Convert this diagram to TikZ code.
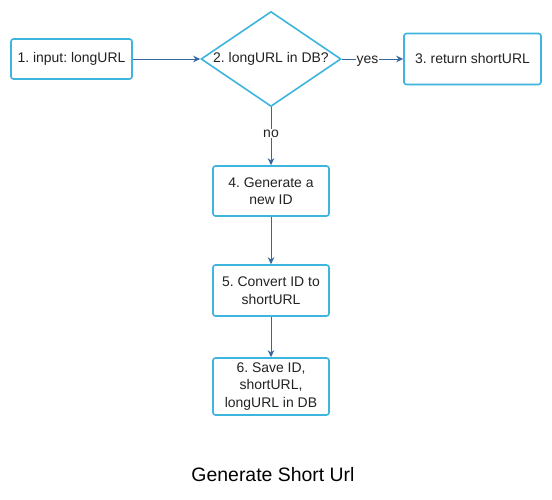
\documentclass[tikz,border=0pt]{standalone}
\usepackage{fontspec}
\setmainfont{Liberation Sans}
\setsansfont{Liberation Sans}
\frenchspacing
\usetikzlibrary{shapes.geometric}
\usetikzlibrary{arrows.meta}
\definecolor{boxColor}{HTML}{3DB5DC}
\definecolor{linkColor}{HTML}{3568A0}
\definecolor{textColor}{HTML}{222222}
\tikzset{
  stepbox/.style={draw=boxColor, line width=1.6bp, rounded corners=2.5bp,
    fill=white, text=textColor, align=center, inner sep=0pt},
  checkbox/.style={draw=boxColor, line width=1.6bp, diamond, aspect=1.47,
    fill=white, text=textColor, inner sep=0pt, minimum width=140bp, minimum height=95bp},
  link/.style={draw=linkColor, line width=0.9bp, -{Stealth[length=7bp,width=6.5bp]}},
  linklabel/.style={fill=white, text=textColor, inner sep=1bp, font=\fontsize{14}{15}\selectfont}
}

\begin{document}
\begin{tikzpicture}[x=1bp,y=-1bp, font=\fontsize{14}{17.5}\selectfont]

% canvas
\useasboundingbox[fill=white] (0, 0) rectangle (552, 500);

% main layer
\begin{scope}
\node[stepbox, minimum width=121bp, minimum height=40bp] (input) at (71.5, 59) {1. input: longURL};
\node[checkbox] (check) at (271, 59) {2. longURL in DB?};
\node[stepbox, minimum width=137bp, minimum height=51bp] (found) at (472.5, 59) {3. return shortURL};
\node[stepbox, minimum width=116bp, minimum height=50bp] (newid) at (271, 191) {4. Generate a\\new ID};
\node[stepbox, minimum width=116bp, minimum height=51bp] (convert) at (271, 290.5) {5. Convert ID to\\shortURL};
\node[stepbox, minimum width=116bp, minimum height=57bp] (save) at (271, 386.5) {6. Save ID,\\shortURL,\\longURL in DB};
\end{scope}

% link layer
\begin{scope}
\draw[link] (input.east) -- (check.west);
\draw[link] (check.east) -- node[linklabel, pos=0.42, yshift=-2bp] {yes} (found.west);
\draw[link] (check.south) -- node[linklabel, pos=0.45] {no} (newid.north);
\draw[link] (newid.south) -- (convert.north);
\draw[link] (convert.south) -- (save.north);
\end{scope}

% title
\node[font=\sffamily\fontsize{19.5}{21}\selectfont] (title) at (273, 475) {Generate Short Url};

\end{tikzpicture}
\end{document}
